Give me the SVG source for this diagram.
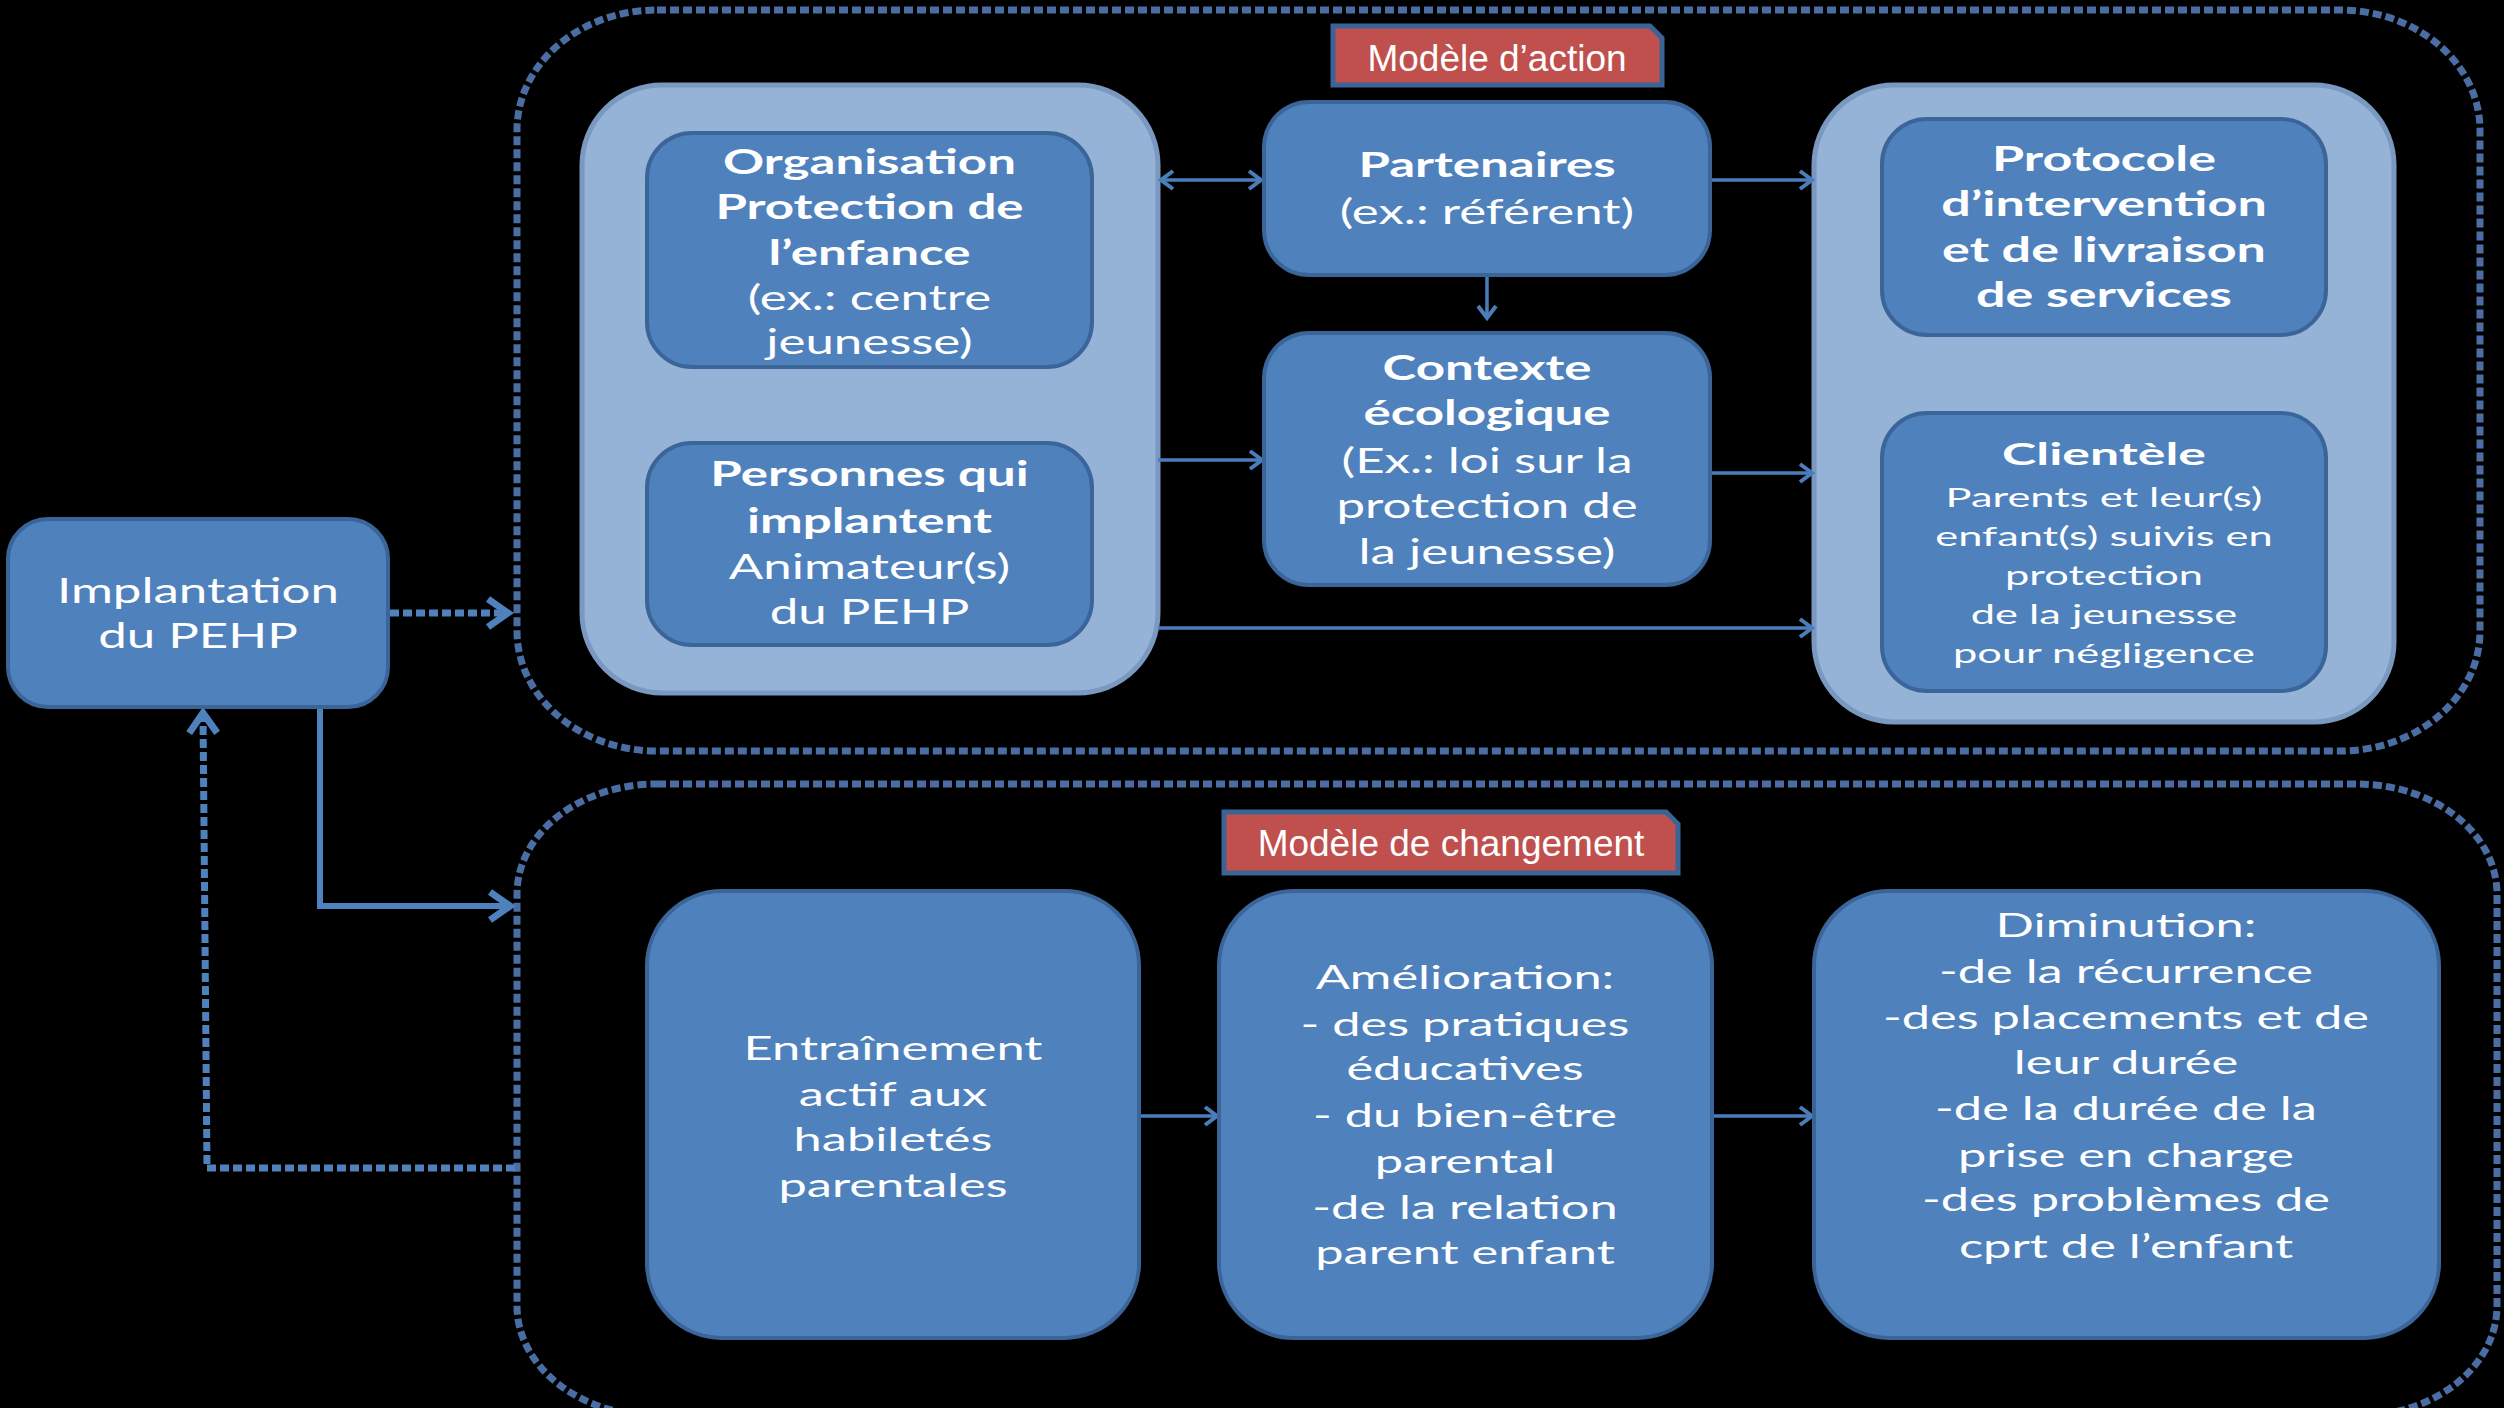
<svg xmlns="http://www.w3.org/2000/svg" width="2504" height="1408" viewBox="0 0 2504 1408">
<defs>
<style>
.box{fill:#4F81BD;stroke:#3B6598;stroke-width:4}
.grp{fill:#95B3D7;stroke:#7A98C0;stroke-width:5}
.cont{fill:none;stroke:#4A6EA3;stroke-width:7;stroke-dasharray:9 4}
.t{font-family:Lato,"Open Sans",sans-serif;fill:#FFFFFF;text-anchor:middle;font-size:34px}
.s{font-size:32px}
.c{font-size:26px}
.b{font-weight:bold}
.lab{font-family:"Liberation Sans",Arial,sans-serif;font-size:37px;fill:#FFFFFF;text-anchor:middle}
.labbox{fill:#C0504D;stroke:#3A6495;stroke-width:5}
.arr{stroke:#4A7EBB;stroke-width:3.5;fill:none;marker-end:url(#ah)}
.dbl{stroke:#4A7EBB;stroke-width:3.5;fill:none;marker-end:url(#ah);marker-start:url(#ahs)}
.dot{stroke:#4F81BD;stroke-width:7;fill:none;stroke-dasharray:9 4}
.thick{stroke:#4F81BD;stroke-width:6;fill:none}
</style>
<marker id="ah" markerUnits="userSpaceOnUse" markerWidth="20" markerHeight="24" refX="15" refY="12" orient="auto">
<path d="M3,3 L15,12 L3,21" fill="none" stroke="#4A7EBB" stroke-width="4"/>
</marker>
<marker id="ahs" markerUnits="userSpaceOnUse" markerWidth="20" markerHeight="24" refX="5" refY="12" orient="auto">
<path d="M17,3 L5,12 L17,21" fill="none" stroke="#4A7EBB" stroke-width="4"/>
</marker>
<marker id="ahb" markerUnits="userSpaceOnUse" markerWidth="30" markerHeight="34" refX="24" refY="17" orient="auto">
<path d="M4,3 L24,17 L4,31" fill="none" stroke="#4F81BD" stroke-width="7"/>
</marker>
</defs>
<rect x="0" y="0" width="2504" height="1408" fill="#000000"/>

<g id="containers">
<rect class="cont" x="517" y="10" width="1963" height="741" rx="140" ry="120"/>
<rect class="cont" x="517" y="784" width="1980" height="632" rx="140" ry="110"/>
</g>

<g id="label-action">
<path class="labbox" d="M1333,26 L1650,26 L1662,38 L1662,85 L1333,85 Z"/>
<text class="lab" x="1497" y="71">Modèle d’action</text>
</g>
<g id="label-changement">
<path class="labbox" d="M1224,812 L1666,812 L1678,824 L1678,873 L1224,873 Z"/>
<text class="lab" x="1451" y="856">Modèle de changement</text>
</g>

<g id="group-left"><rect class="grp" x="582" y="85" width="576" height="608" rx="80"/></g>
<g id="group-right"><rect class="grp" x="1814" y="85" width="580" height="637" rx="80"/></g>

<g id="connectors">
<line class="dbl" x1="1161" y1="180" x2="1261" y2="180"/>
<line class="arr" x1="1710" y1="180" x2="1812" y2="180"/>
<line class="arr" x1="1487" y1="276" x2="1487" y2="318"/>
<line class="arr" x1="1158" y1="460" x2="1262" y2="460"/>
<line class="arr" x1="1710" y1="473" x2="1812" y2="473"/>
<line class="arr" x1="1158" y1="628" x2="1812" y2="628"/>
<line class="arr" x1="1139" y1="1116" x2="1217" y2="1116"/>
<line class="arr" x1="1712" y1="1116" x2="1812" y2="1116"/>
<line class="dot" x1="390" y1="613" x2="508" y2="613" marker-end="url(#ahb)"/>
<polyline class="thick" points="320,709 320,906 510,906" marker-end="url(#ahb)"/>
<polyline class="dot" points="515,1168 207,1168 203,713" marker-end="url(#ahb)"/>
</g>

<g id="implantation">
<rect class="box" x="8" y="519" width="380" height="188" rx="40"/>
<g transform="translate(198 0) scale(1.5 1)">
<text class="t" y="603">Implantation</text>
<text class="t" y="648">du PEHP</text>
</g></g>

<g id="organisation">
<rect class="box" x="647" y="133" width="445" height="234" rx="45"/>
<g transform="translate(869.5 0) scale(1.5 1)">
<text class="t b" y="174">Organisation</text>
<text class="t b" y="219">Protection de</text>
<text class="t b" y="265">l’enfance</text>
<text class="t" y="310">(ex.: centre</text>
<text class="t" y="354">jeunesse)</text>
</g></g>

<g id="personnes">
<rect class="box" x="647" y="443" width="445" height="202" rx="45"/>
<g transform="translate(869.5 0) scale(1.5 1)">
<text class="t b" y="486">Personnes qui</text>
<text class="t b" y="533">implantent</text>
<text class="t" y="579">Animateur(s)</text>
<text class="t" y="624">du PEHP</text>
</g></g>

<g id="partenaires">
<rect class="box" x="1264" y="102" width="446" height="173" rx="45"/>
<g transform="translate(1487 0) scale(1.5 1)">
<text class="t b" y="177">Partenaires</text>
<text class="t" y="224">(ex.: référent)</text>
</g></g>

<g id="contexte">
<rect class="box" x="1264" y="333" width="446" height="252" rx="45"/>
<g transform="translate(1487 0) scale(1.5 1)">
<text class="t b" y="380">Contexte</text>
<text class="t b" y="425">écologique</text>
<text class="t" y="473">(Ex.: loi sur la</text>
<text class="t" y="518">protection de</text>
<text class="t" y="564">la jeunesse)</text>
</g></g>

<g id="protocole">
<rect class="box" x="1882" y="119" width="444" height="216" rx="45"/>
<g transform="translate(2104 0) scale(1.53 1)">
<text class="t b" y="171">Protocole</text>
<text class="t b" y="216">d’intervention</text>
<text class="t b" y="262">et de livraison</text>
<text class="t b" y="307">de services</text>
</g></g>

<g id="clientele">
<rect class="box" x="1882" y="413" width="444" height="278" rx="45"/>
<g transform="translate(2104 0) scale(1.67 1)">
<text class="t b" style="font-size:31px" y="465">Clientèle</text>
<text class="t c" y="507">Parents et leur(s)</text>
<text class="t c" y="546">enfant(s) suivis en</text>
<text class="t c" y="585">protection</text>
<text class="t c" y="624">de la jeunesse</text>
<text class="t c" y="663">pour négligence</text>
</g></g>

<g id="entrainement">
<rect class="box" x="647" y="891" width="492" height="447" rx="75"/>
<g transform="translate(893 0) scale(1.58 1)">
<text class="t s" y="1060">Entraînement</text>
<text class="t s" y="1106">actif aux</text>
<text class="t s" y="1151">habiletés</text>
<text class="t s" y="1197">parentales</text>
</g></g>

<g id="amelioration">
<rect class="box" x="1219" y="891" width="493" height="447" rx="75"/>
<g transform="translate(1465 0) scale(1.58 1)">
<text class="t s" y="989">Amélioration:</text>
<text class="t s" y="1036">- des pratiques</text>
<text class="t s" y="1080">éducatives</text>
<text class="t s" y="1127">- du bien-être</text>
<text class="t s" y="1173">parental</text>
<text class="t s" y="1219">-de la relation</text>
<text class="t s" y="1264">parent enfant</text>
</g></g>

<g id="diminution">
<rect class="box" x="1814" y="891" width="625" height="447" rx="75"/>
<g transform="translate(2126 0) scale(1.58 1)">
<text class="t s" y="937">Diminution:</text>
<text class="t s" y="983">-de la récurrence</text>
<text class="t s" y="1029">-des placements et de</text>
<text class="t s" y="1074">leur durée</text>
<text class="t s" y="1120">-de la durée de la</text>
<text class="t s" y="1167">prise en charge</text>
<text class="t s" y="1211">-des problèmes de</text>
<text class="t s" y="1258">cprt de l’enfant</text>
</g></g>
</svg>
